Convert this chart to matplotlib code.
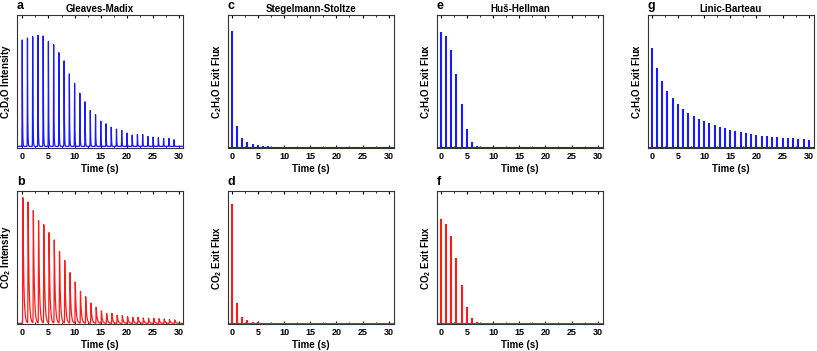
import numpy as np
import matplotlib.pyplot as plt
from matplotlib.ticker import MultipleLocator

plt.rcParams['font.family'] = ['Liberation Sans', 'DejaVu Sans']
plt.rcParams['font.weight'] = 'bold'
plt.rcParams['mathtext.fontset'] = 'custom'
plt.rcParams['mathtext.bf'] = 'Liberation Sans:bold'
plt.rcParams['mathtext.rm'] = 'Liberation Sans:bold'
plt.rcParams['mathtext.default'] = 'bf'

# pulse experiment (a, b): peak height of each pulse, fraction of axis height
pulse_times = np.arange(30)
c2d4o_peaks = [0.80, 0.815, 0.825, 0.835, 0.83, 0.79, 0.765, 0.705, 0.643, 0.545,
               0.475, 0.40, 0.335, 0.27, 0.24, 0.19, 0.17, 0.145, 0.13, 0.12,
               0.10, 0.085, 0.09, 0.09, 0.075, 0.07, 0.065, 0.06, 0.06, 0.05]
co2_peaks = [0.945, 0.91, 0.845, 0.77, 0.74, 0.68, 0.625, 0.54, 0.47, 0.38,
             0.31, 0.24, 0.20, 0.15, 0.12, 0.093, 0.075, 0.075, 0.06, 0.058,
             0.05, 0.045, 0.045, 0.04, 0.038, 0.038, 0.035, 0.033, 0.028, 0.025]

# model exit fluxes (c-g), one value per pulse
model_times = np.arange(31)
stegelmann_c2h4o = [0.88, 0.167, 0.072, 0.042, 0.03, 0.022, 0.017, 0.012, 0.010, 0.008,
                    0.007, 0.006, 0.005, 0.005, 0.004, 0.004, 0.004, 0.003, 0.003, 0.003,
                    0.003, 0.003, 0.002, 0.002, 0.002, 0.002, 0.002, 0.002, 0.002, 0.002, 0.002]
stegelmann_co2 = [0.90, 0.155, 0.055, 0.03, 0.018, 0.012, 0.010, 0.008, 0.006, 0.005,
                  0.005, 0.004, 0.004, 0.003, 0.003, 0.003, 0.003, 0.003, 0.002, 0.002,
                  0.002, 0.002, 0.002, 0.002, 0.002, 0.002, 0.002, 0.002, 0.002, 0.002, 0.002]
hus_c2h4o = [0.875, 0.84, 0.74, 0.56, 0.33, 0.14, 0.047, 0.017, 0.007, 0.004,
             0.003, 0.003, 0.003, 0.003, 0.003, 0.003, 0.003, 0.003, 0.003, 0.003,
             0.003, 0.003, 0.003, 0.003, 0.003, 0.003, 0.003, 0.003, 0.003, 0.003, 0.003]
hus_co2 = [0.79, 0.75, 0.66, 0.50, 0.29, 0.13, 0.045, 0.015, 0.007, 0.004,
           0.003, 0.003, 0.003, 0.003, 0.003, 0.003, 0.003, 0.003, 0.003, 0.003,
           0.003, 0.003, 0.003, 0.003, 0.003, 0.003, 0.003, 0.003, 0.003, 0.003, 0.003]
linic_c2h4o = [0.75, 0.60, 0.505, 0.43, 0.375, 0.33, 0.29, 0.26, 0.24, 0.22,
               0.20, 0.185, 0.17, 0.16, 0.15, 0.138, 0.13, 0.12, 0.113, 0.105,
               0.098, 0.093, 0.088, 0.085, 0.085, 0.078, 0.075, 0.072, 0.068, 0.065, 0.063]

BLUE = '#1a1aff'
RED = '#ff1a1a'


def pulse_trace(peaks, delay, tau, base):
    # build a time trace from the read-off pulse heights
    t = np.arange(-1, 30.7, 0.004)
    y = np.full_like(t, base)
    for t0, h in zip(pulse_times, peaks):
        dt = t - t0 - delay
        rise = np.exp(-(dt / 0.035) ** 2)
        y += h * np.where(dt < 0, rise, np.exp(-dt / tau))
    return t, y


fig = plt.figure(figsize=(8.17, 3.51), dpi=100)
W, H = 817, 351
lefts = [17, 228, 437, 648]
tops = [15, 191]
aw, ah = 166, 133


def make_ax(col, row):
    ax = fig.add_axes([lefts[col] / W, 1 - (tops[row] + ah) / H, aw / W, ah / H])
    ax.set_ylim(0, 1)
    ax.set_yticks([])
    ax.xaxis.set_major_locator(MultipleLocator(5))
    ax.xaxis.set_minor_locator(MultipleLocator(2.5))
    ax.tick_params(axis='x', which='both', top=True, direction='in', labelsize=6.5, pad=3)
    ax.tick_params(axis='x', which='major', length=2.5, width=0.8)
    ax.tick_params(axis='x', which='minor', length=1.5, width=0.6)
    for s in ax.spines.values():
        s.set_linewidth(0.8)
        s.set_color('#333333')
    ax.set_xlabel('Time (s)', fontsize=7, fontweight='bold', labelpad=2)
    return ax


def letter(ax, s):
    ax.text(0.0, 1.045, s, transform=ax.transAxes, fontsize=9, fontweight='bold',
            ha='left', va='baseline')


# a
ax = make_ax(0, 0)
t, y = pulse_trace(c2d4o_peaks, 0.0, 0.05, 0.012)
ax.plot(t, y, color=BLUE, lw=0.9)
ax.set_xlim(-1, 30.7)
ax.set_title('Gleaves-Madix', fontsize=7, fontweight='bold', pad=2.5)
ax.set_ylabel(r'C$_2$D$_4$O Intensity', fontsize=7, fontweight='bold', labelpad=3)
letter(ax, 'a')

# b
ax = make_ax(0, 1)
t, y = pulse_trace(co2_peaks, 0.12, 0.17, 0.005)
ax.plot(t, y, color=RED, lw=0.9)
ax.set_xlim(-1, 30.7)
ax.set_ylabel(r'CO$_2$ Intensity', fontsize=7, fontweight='bold', labelpad=3)
letter(ax, 'b')

panels = [
    (1, 0, 'c', 'Stegelmann-Stoltze', stegelmann_c2h4o, BLUE, r'C$_2$H$_4$O Exit Flux'),
    (1, 1, 'd', None, stegelmann_co2, RED, r'CO$_2$ Exit Flux'),
    (2, 0, 'e', 'Huš-Hellman', hus_c2h4o, BLUE, r'C$_2$H$_4$O Exit Flux'),
    (2, 1, 'f', None, hus_co2, RED, r'CO$_2$ Exit Flux'),
    (3, 0, 'g', 'Linic-Barteau', linic_c2h4o, BLUE, r'C$_2$H$_4$O Exit Flux'),
]
for col, row, lab, title, vals, color, ylab in panels:
    ax = make_ax(col, row)
    ax.vlines(model_times, 0, vals, color=color, lw=1.5)
    ax.axhline(0.004, color=color, lw=0.8)
    ax.set_xlim(-0.7, 31)
    if title:
        ax.set_title(title, fontsize=7, fontweight='bold', pad=2.5)
    ax.set_ylabel(ylab, fontsize=7, fontweight='bold', labelpad=3)
    letter(ax, lab)

fig.savefig('out.png', dpi=100)
